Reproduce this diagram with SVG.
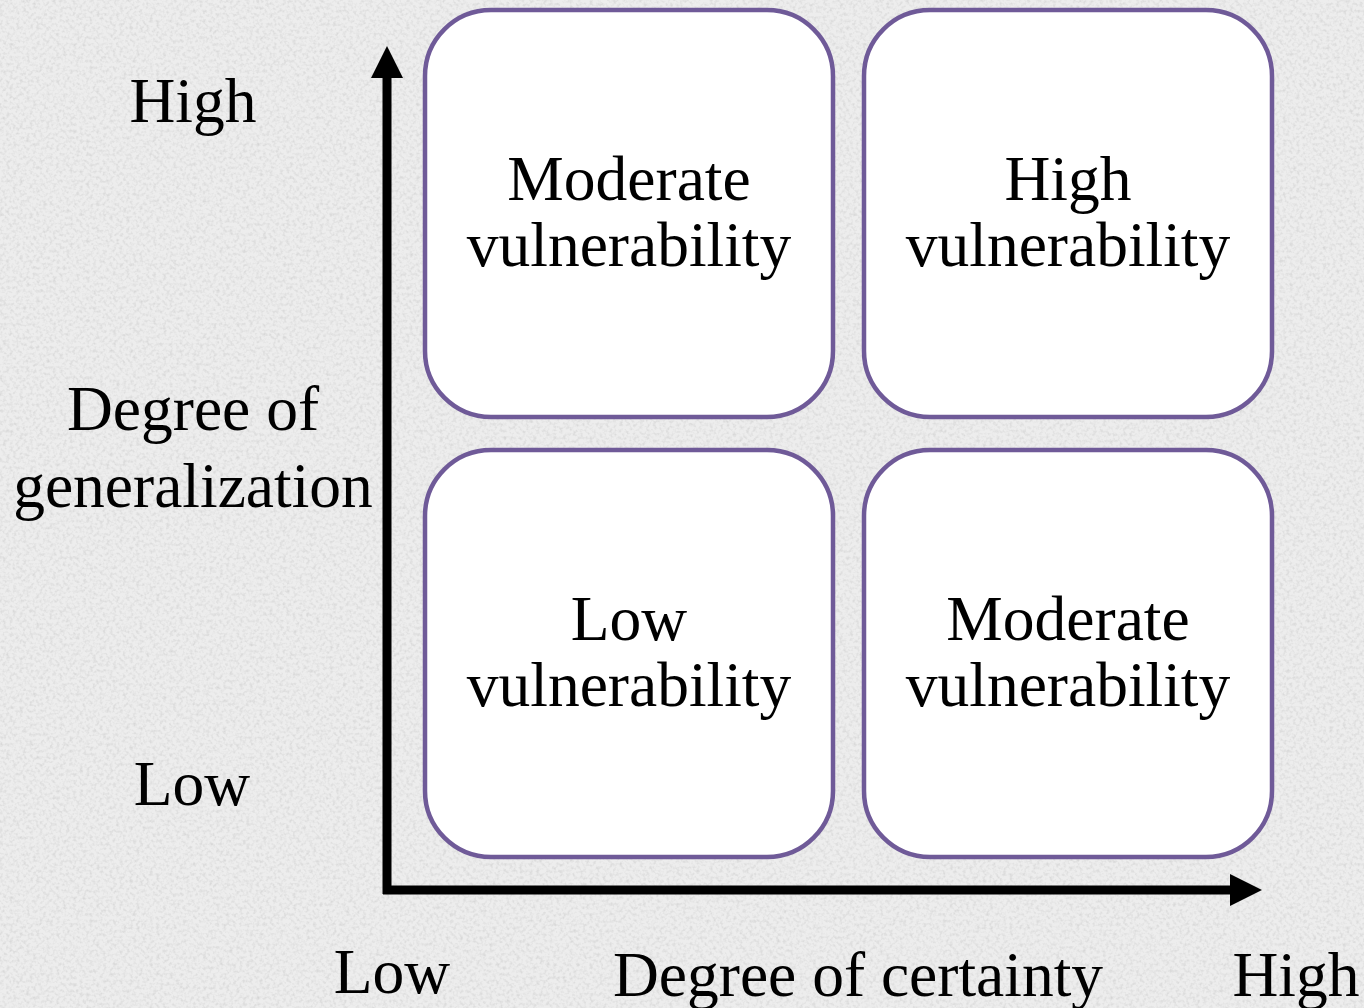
<svg xmlns="http://www.w3.org/2000/svg" width="1364" height="1008" viewBox="0 0 1364 1008">
  <defs>
    <filter id="noise" x="0" y="0" width="100%" height="100%">
      <feTurbulence type="fractalNoise" baseFrequency="0.3" numOctaves="2" seed="7" result="t"/>
      <feColorMatrix type="matrix" values="0 0 0 0 0.5  0 0 0 0 0.5  0 0 0 0 0.5  1.6 0 0 0 -0.7" />
    </filter>
    <marker id="arrow" viewBox="0 0 32 32" refX="2" refY="16" markerWidth="32" markerHeight="32" markerUnits="userSpaceOnUse" orient="auto">
      <path d="M0,0 L32,16 L0,32 Z" fill="#000"/>
    </marker>
    <style>
      .box { fill: #ffffff; stroke: #6f5a98; stroke-width: 4.5; }
      .t { font-family: "Liberation Serif", "Times New Roman", serif; font-size: 63.5px; fill: #000; text-anchor: middle; }
      .axis { stroke: #000; stroke-width: 9; fill: none; }
    </style>
  </defs>
  <rect x="0" y="0" width="1364" height="1008" fill="#ededed"/>
  <rect x="0" y="0" width="1364" height="1008" filter="url(#noise)" opacity="0.6"/>

  <g id="connectors">
    <path class="axis" d="M387,894 L387,76" marker-end="url(#arrow)"/>
    <path class="axis" d="M383,890 L1232,890" marker-end="url(#arrow)"/>
  </g>

  <g id="node-top-left">
    <rect class="box" x="425" y="10" width="408" height="407" rx="66" ry="66"/>
    <text class="t" x="629" y="200">Moderate</text>
    <text class="t" x="629" y="266">vulnerability</text>
  </g>
  <g id="node-top-right">
    <rect class="box" x="864" y="10" width="408" height="407" rx="66" ry="66"/>
    <text class="t" x="1068" y="200">High</text>
    <text class="t" x="1068" y="266">vulnerability</text>
  </g>
  <g id="node-bottom-left">
    <rect class="box" x="425" y="450" width="408" height="407" rx="66" ry="66"/>
    <text class="t" x="629" y="640">Low</text>
    <text class="t" x="629" y="706">vulnerability</text>
  </g>
  <g id="node-bottom-right">
    <rect class="box" x="864" y="450" width="408" height="407" rx="66" ry="66"/>
    <text class="t" x="1068" y="640">Moderate</text>
    <text class="t" x="1068" y="706">vulnerability</text>
  </g>

  <g id="y-labels">
    <text class="t" x="193" y="122">High</text>
    <text class="t" x="193" y="430">Degree of</text>
    <text class="t" x="193" y="507">generalization</text>
    <text class="t" x="192" y="805">Low</text>
  </g>
  <g id="x-labels">
    <text class="t" x="392" y="993">Low</text>
    <text class="t" x="858" y="996">Degree of certainty</text>
    <text class="t" x="1296" y="996">High</text>
  </g>
</svg>
